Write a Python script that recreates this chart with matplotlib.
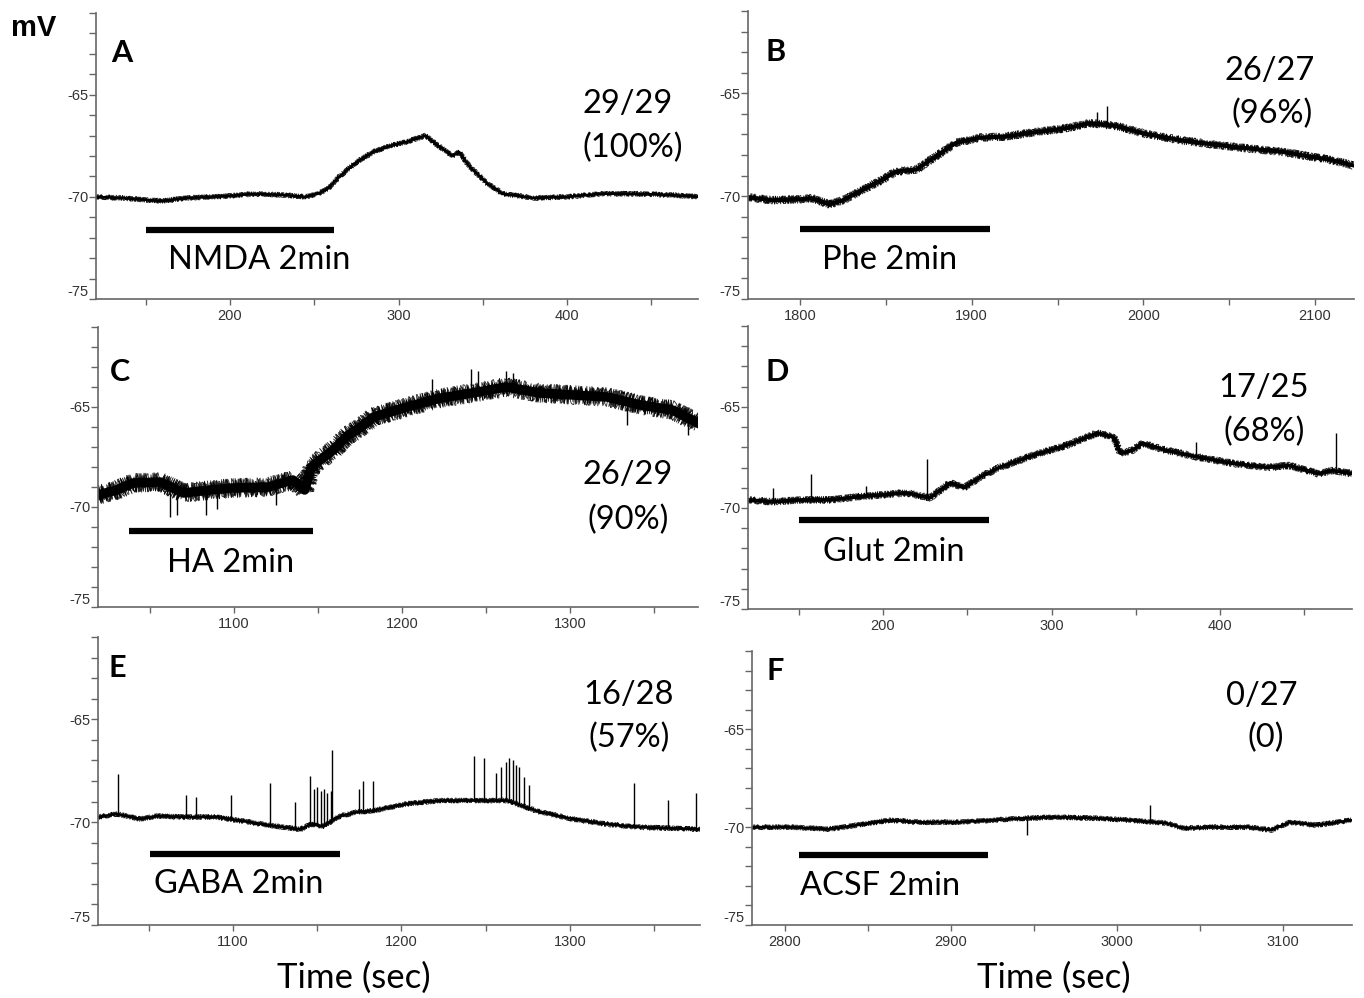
import numpy as np
import matplotlib
matplotlib.use("Agg")
import matplotlib.pyplot as plt
from matplotlib.transforms import Bbox, TransformedBbox

plt.rcParams["axes.unicode_minus"] = False

# ---------- data (time in s, membrane potential in mV) ----------
A_t = [120, 135, 150, 160, 175, 190, 200, 215, 230, 245, 252, 258, 265, 275, 285,
       295, 305, 316, 322, 332, 336, 342, 352, 362, 380, 400, 420, 440, 460, 478]
A_v = [-70.0, -70.05, -70.15, -70.2, -70.05, -70.0, -69.95, -69.85, -69.9, -70.0,
       -69.85, -69.6, -69.0, -68.3, -67.8, -67.5, -67.3, -67.0, -67.4, -68.0,
       -67.8, -68.5, -69.3, -69.85, -70.05, -70.0, -69.85, -69.85, -69.9, -70.0]

B_t = [1770, 1784, 1800, 1807, 1817, 1825, 1833, 1848, 1856, 1868, 1882, 1891,
       1905, 1920, 1936, 1955, 1969, 1985, 2000, 2023, 2052, 2081, 2110, 2122]
B_v = [-70.05, -70.2, -70.15, -70.1, -70.4, -70.2, -69.85, -69.2, -68.8, -68.7,
       -67.9, -67.4, -67.15, -67.1, -66.9, -66.7, -66.45, -66.6, -66.95, -67.3,
       -67.6, -67.85, -68.25, -68.5]

C_t = [1019, 1030, 1040, 1056, 1070, 1086, 1099, 1120, 1135, 1142, 1146, 1152, 1159,
       1168, 1174, 1183, 1203, 1223, 1242, 1262, 1282, 1302, 1322, 1342, 1361, 1376]
C_v = [-69.4, -69.15, -68.8, -68.75, -69.3, -69.15, -69.05, -69.0, -68.65, -69.15,
       -68.0, -67.6, -67.15, -66.4, -66.1, -65.5, -65.0, -64.55, -64.3, -64.0,
       -64.3, -64.4, -64.5, -64.9, -65.15, -65.8]

D_t = [120, 135, 151, 169, 185, 200, 214, 228, 240, 248, 258, 269, 289, 309,
       327, 337, 341, 348, 354, 368, 388, 408, 428, 441, 458, 467, 478]
D_v = [-69.6, -69.7, -69.6, -69.6, -69.45, -69.35, -69.25, -69.5, -68.75, -69.0,
       -68.45, -68.0, -67.4, -66.9, -66.3, -66.5, -67.3, -67.15, -66.8, -67.15,
       -67.5, -67.8, -68.0, -67.9, -68.3, -68.15, -68.3]

E_t = [1020, 1031, 1045, 1055, 1070, 1090, 1110, 1130, 1140, 1146, 1154, 1160, 1164,
       1174, 1183, 1204, 1223, 1243, 1263, 1273, 1282, 1302, 1322, 1342, 1362, 1377]
E_v = [-69.75, -69.6, -69.85, -69.7, -69.75, -69.75, -70.0, -70.25, -70.35, -70.1,
       -70.2, -69.85, -69.7, -69.5, -69.45, -69.1, -68.95, -68.95, -68.95, -69.25,
       -69.5, -69.85, -70.1, -70.25, -70.3, -70.35]

F_t = [2780, 2803, 2827, 2843, 2863, 2883, 2903, 2923, 2943, 2959, 2969, 2989,
       3009, 3030, 3040, 3060, 3079, 3093, 3104, 3120, 3141]
F_v = [-70.0, -70.0, -70.1, -69.9, -69.65, -69.75, -69.75, -69.65, -69.55, -69.5,
       -69.5, -69.55, -69.65, -69.8, -70.05, -70.0, -70.0, -70.15, -69.75, -69.9, -69.65]

# spikes: time, trace level, tip
B_spk_t = [1973, 1979]
B_spk_lo = [-66.5, -66.6]
B_spk_hi = [-65.9, -65.6]

C_spk_t = [1062, 1066, 1083, 1090, 1125, 1218, 1241, 1245, 1262, 1266, 1334, 1370]
C_spk_lo = [-69.3, -69.3, -69.15, -69.1, -69.0, -64.6, -64.3, -64.3, -64.0, -64.1,
            -64.8, -65.6]
C_spk_hi = [-70.5, -70.4, -70.4, -70.1, -69.9, -63.6, -63.1, -63.2, -63.2, -63.3,
            -65.9, -66.4]

D_spk_t = [135, 157, 190, 226, 386, 469]
D_spk_lo = [-69.7, -69.6, -69.4, -69.4, -67.5, -68.2]
D_spk_hi = [-69.0, -68.3, -68.9, -67.6, -66.75, -66.3]

E_spk_t = [1032, 1072, 1078, 1099, 1122, 1137, 1146, 1148, 1150, 1152, 1154, 1156,
           1158, 1159, 1175, 1177, 1183, 1243, 1249, 1256, 1259, 1262, 1264, 1266,
           1268, 1270, 1273, 1276, 1338, 1358, 1375]
E_spk_lo = [-69.6, -69.75, -69.75, -69.9, -70.1, -70.3, -70.2, -70.2, -70.2, -70.2,
            -70.2, -70.1, -70.0, -69.9, -69.5, -69.5, -69.45, -68.95, -68.95, -68.95,
            -68.95, -68.95, -68.95, -68.95, -69.0, -69.1, -69.25, -69.3, -70.2, -70.3, -70.35]
E_spk_hi = [-67.65, -68.7, -68.8, -68.7, -68.1, -69.0, -67.75, -68.4, -68.3, -68.5,
            -68.4, -68.6, -68.5, -66.5, -68.4, -68.0, -68.0, -66.8, -66.9, -67.6,
            -67.3, -67.1, -66.9, -67.0, -67.2, -67.3, -67.8, -68.2, -68.1, -68.9, -68.6]

F_spk_t = [2946, 3020]
F_spk_lo = [-69.6, -69.7]
F_spk_hi = [-70.4, -68.85]

# drug application bars: start, end, level
bar_start = [150, 1800, 1037.5, 150, 1050.6, 2808.4]
bar_end = [262, 1910.6, 1147, 263, 1163.7, 2922.5]
bar_level = [-71.6, -71.6, -71.2, -70.6, -71.55, -71.4]

letters = ["A", "B", "C", "D", "E", "F"]
drugs = ["NMDA 2min", "Phe 2min", "HA 2min", "Glut 2min", "GABA 2min", "ACSF 2min"]
counts = ["29/29", "26/27", "26/29", "17/25", "16/28", "0/27"]
percents = ["(100%)", "(96%)", "(90%)", "(68%)", "(57%)", "(0)"]

traces = [(A_t, A_v), (B_t, B_v), (C_t, C_v), (D_t, D_v), (E_t, E_v), (F_t, F_v)]
spikes = [None, (B_spk_t, B_spk_lo, B_spk_hi), (C_spk_t, C_spk_lo, C_spk_hi),
          (D_spk_t, D_spk_lo, D_spk_hi), (E_spk_t, E_spk_lo, E_spk_hi),
          (F_spk_t, F_spk_lo, F_spk_hi)]

# ---------- layout (pixels of the 1364x998 canvas) ----------
W, H = 1364, 998
rects = [(96, 13, 698, 299), (748, 11, 1354, 299), (98, 327, 698, 607),
         (748, 326, 1352, 609), (98, 637, 700, 925), (752, 651, 1352, 925)]
xlims = [(120.5, 477.7), (1769.7, 2122.7), (1019, 1376.2),
         (119.9, 478.3), (1019.9, 1377.2), (2780.1, 3141.6)]
xmaj = [[200, 300, 400], [1800, 1900, 2000, 2100], [1100, 1200, 1300],
        [200, 300, 400], [1100, 1200, 1300], [2800, 2900, 3000, 3100]]
xmin = [[150, 250, 350, 450], [1850, 1950, 2050], [1050, 1150, 1250, 1350],
        [150, 250, 350, 450], [1050, 1150, 1250, 1350], [2850, 2950, 3050]]
band = [5, 8, 19, 7, 5, 5]   # full thickness of the noisy band, px
letter_xy = [(135.9, -62.94), (1786, -63.0), (1032.1, -63.25),
             (137.1, -63.27), (1031.2, -62.5), (2794, -62.0)]
drug_xy = [(217.2, -73.1), (1852.4, -73.1), (1098.2, -72.8),
           (206.5, -72.2), (1103.6, -73.0), (2857.2, -73.0)]
count_xy = [(436.2, -65.45), (2073.8, -63.9), (1334.5, -68.4),
            (426.1, -64.06), (1335, -63.83), (3087.3, -63.3)]
pct_xy = [(439.2, -67.6), (2075, -66.0), (1334.5, -70.65),
          (426.1, -66.24), (1335, -65.92), (3089.7, -65.46)]

TXT = "Lato"
AX_COL = "#666666"
FS = 23.5

fig = plt.figure(figsize=(W / 100, H / 100), dpi=100)

for i in range(6):
    l, t, r, b = rects[i]
    ax = fig.add_axes([l / W, 1 - b / H, (r - l) / W, (b - t) / H])
    ax.set_xlim(*xlims[i])
    ax.set_ylim(-75, -61)
    for s in ["top", "right"]:
        ax.spines[s].set_visible(False)
    for s in ["left", "bottom"]:
        ax.spines[s].set_color(AX_COL)
        ax.spines[s].set_linewidth(1.2)

    ax.set_yticks([-75, -70, -65])
    ax.set_yticklabels(["-75", "-70", "-65"])
    ax.set_yticks(np.arange(-74, -60), minor=True)
    ax.set_xticks(xmaj[i])
    ax.set_xticklabels([str(x) for x in xmaj[i]])
    ax.set_xticks(xmin[i], minor=True)
    ax.tick_params(which="both", direction="out", length=4, width=1, color=AX_COL,
                   labelsize=10.5, labelcolor="#333333")
    ax.tick_params(axis="y", which="both", pad=0.5, length=5)
    ax.tick_params(axis="x", which="both", pad=3)
    for lab in ax.get_xticklabels() + ax.get_yticklabels():
        lab.set_fontfamily("Liberation Sans")
    ax.yaxis.get_major_ticks()[0].label1.set_va("bottom")

    tt, vv = traces[i]
    # solid core of the trace plus a few jagged copies for the recording noise
    ax.plot(tt, vv, color="black", lw=band[i] * 0.5 * 0.72, solid_joinstyle="round")
    for k, ln_len in enumerate([0.3, 0.45, 0.65, 0.85]):
        ln, = ax.plot(tt, vv, color="black", lw=0.6, alpha=0.85)
        ln.set_sketch_params(scale=band[i] * 0.5, length=ln_len, randomness=3 + k)

    if spikes[i] is not None:
        st, slo, shi = spikes[i]
        ax.vlines(st, slo, shi, color="black", lw=1.0)

    ax.hlines(bar_level[i], bar_start[i], bar_end[i], color="black", lw=4.5,
              capstyle="butt")

    ax.text(*letter_xy[i], letters[i], fontsize=22, fontweight="bold",
            family=TXT, ha="center", va="center")
    ax.text(*drug_xy[i], drugs[i], fontsize=FS, family=TXT, ha="center", va="center")
    ax.text(*count_xy[i], counts[i], fontsize=FS, family=TXT, ha="center", va="center")
    ax.text(*pct_xy[i], percents[i], fontsize=FS, family=TXT, ha="center", va="center")

fig.text(354 / W, 1 - 978 / H, "Time (sec)", fontsize=25, family=TXT,
         ha="center", va="center")
fig.text(1054 / W, 1 - 978 / H, "Time (sec)", fontsize=25, family=TXT,
         ha="center", va="center")

mv = fig.text(11 / W, 1 - 28 / H, "mV", fontsize=21, fontweight="bold",
              family="Liberation Sans", ha="left", va="center")
mv.set_clip_on(True)
mv.set_clip_box(TransformedBbox(Bbox([[0, 0], [57 / W, 1]]), fig.transFigure))

fig.savefig("out.png", dpi=100)
